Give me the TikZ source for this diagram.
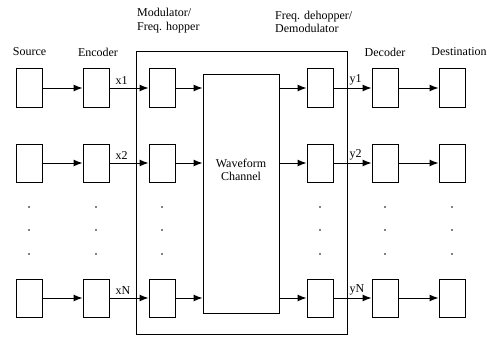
\documentclass[tikz,border=0pt]{standalone}
\usepackage{fontspec}
\setmainfont{Liberation Serif}
\usetikzlibrary{positioning, arrows.meta}

\begin{document}
\begin{tikzpicture}[x=1pt, y=-1pt, font=\fontsize{12}{13.5}\selectfont,
    blk/.style={rectangle, draw, line width=1pt, inner sep=0pt,
                minimum width=26pt, minimum height=38pt},
    flow/.style={-{Latex[length=9pt, width=7pt]}, line width=1pt},
    head/.style={inner sep=1pt},
    sig/.style={inner sep=1pt, anchor=south west},
]
\useasboundingbox (0,0) rectangle (487,337);

% ─── Frame and channel ───────────────────────────────────────────
\node[draw, line width=0.9pt, minimum width=211pt, minimum height=283pt]
  (frame) at (241.5,192.5) {};
\node[draw, line width=1pt, minimum width=76pt, minimum height=239pt]
  (chan) at (241,193.5) {};
\node[align=center] (chantxt) at (241,170) {Waveform\\Channel};

% ─── Column headings ─────────────────────────────────────────────
\node[head] (hsrc) at (29.5,52) {Source};
\node[head] (henc) at (98,52) {Encoder};
\node[head, align=left, anchor=south west] (hmod) at (136,34) {Modulator/\\Freq. hopper};
\node[head, align=left, anchor=south west] (hdem) at (274,34) {Freq. dehopper/\\Demodulator};
\node[head] (hdec) at (385,52) {Decoder};
\node[head] (hdst) at (459,52) {Destination};

% ─── Rows ────────────────────────────────────────────────────────
\foreach \r/\y in {1/88, 2/163, N/298} {
  \node[blk] (src\r) at (29,\y)  {};
  \node[blk] (enc\r) at (96,\y)  {};
  \node[blk] (mod\r) at (162,\y) {};
  \node[blk] (dem\r) at (320,\y) {};
  \node[blk] (dec\r) at (385,\y) {};
  \node[blk] (dst\r) at (452,\y) {};
  \draw[flow] (src\r) -- (enc\r);
  \draw[flow] (enc\r) -- (mod\r);
  \draw[flow] (mod\r) -- (mod\r -| chan.west);
  \draw[flow] (dem\r -| chan.east) -- (dem\r);
  \draw[flow] (dem\r) -- (dec\r);
  \draw[flow] (dec\r) -- (dst\r);
  \node[sig] (x\r) at ([xshift=5pt, yshift=2pt]enc\r.east) {x\r};
  \node[sig] (y\r) at ([xshift=15pt, yshift=2pt]dem\r.east) {y\r};
}

% ─── Vertical dots ───────────────────────────────────────────────
\foreach \c in {29, 96, 162, 320, 385, 452}
  \foreach \d in {207, 230, 254}
    \fill (\c,\d) circle (0.8pt);

\end{tikzpicture}
\end{document}
